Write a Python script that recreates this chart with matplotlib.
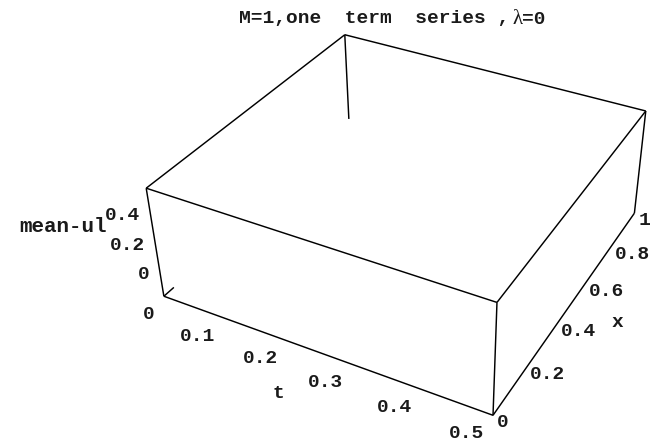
import numpy as np
import matplotlib
matplotlib.use("Agg")
import matplotlib.pyplot as plt

# ---- data / axis setup ----
title_parts = ["M=1,one  term  series ,", "\u03bb", "=0"]
t_range = (0.0, 0.5)
x_range = (0.0, 1.0)
z_range = (-0.14, 0.59)
t_ticks = [0, 0.1, 0.2, 0.3, 0.4, 0.5]
x_ticks = [0, 0.2, 0.4, 0.6, 0.8, 1]
z_ticks = [0, 0.2, 0.4]
t_tick_labels = ["0", "0.1", "0.2", "0.3", "0.4", "0.5"]
x_tick_labels = ["0", "0.2", "0.4", "0.6", "0.8", "1"]
z_tick_labels = ["0", "0.2", "0.4"]
t_label, x_label, z_label = "t", "x", "mean-ul"

# ---- view (perspective projection of the Mathematica-style box) ----
P = np.array([[555.67, 257.901, -26.5174, 163.869],
              [151.681, -136.984, -119.43, 296.238],
              [-0.208142, 0.206855, -0.060495, 1.0]])


def proj(t, x, z):
    """t, x, z in data units -> figure pixel coordinates."""
    zn = (np.asarray(z, float) - z_range[0]) / (z_range[1] - z_range[0])
    t = np.asarray(t, float); x = np.asarray(x, float)
    h = P @ np.array([t, x, zn, np.ones_like(t)])
    return h[0] / h[2], h[1] / h[2]


W, H = 659, 448
fig = plt.figure(figsize=(W / 100, H / 100), dpi=100)
ax = fig.add_axes([0, 0, 1, 1])
ax.set_xlim(0, W)
ax.set_ylim(H, 0)
ax.axis("off")

t0, t1 = t_range
x0, x1 = x_range
z0, z1 = z_range


def edge(p, q, f0=0.0, f1=1.0):
    s = np.linspace(f0, f1, 50)
    pts = np.array([np.array(p) + (np.array(q) - np.array(p)) * si for si in s])
    u, v = proj(pts[:, 0], pts[:, 1], pts[:, 2])
    ax.plot(u, v, color="black", lw=1.05, solid_capstyle="butt")


# visible box edges (lower back parts are hidden by the white surface)
edge((t0, x0, z0), (t0, x0, z1))             # near-left vertical
edge((t1, x0, z0), (t1, x0, z1))             # front vertical
edge((t1, x1, z0), (t1, x1, z1))             # right vertical
edge((t0, x1, z1), (t0, x1, z0), 0, 0.86)    # back vertical (partly hidden)
edge((t0, x0, z1), (t1, x0, z1))             # top edges
edge((t0, x0, z1), (t0, x1, z1))
edge((t1, x0, z1), (t1, x1, z1))
edge((t0, x1, z1), (t1, x1, z1))
edge((t0, x0, z0), (t1, x0, z0))             # bottom front
edge((t1, x0, z0), (t1, x1, z0))             # bottom right
edge((t0, x0, z0), (t0, x1, z0), 0, 0.045)   # short visible stub

font = dict(family=["Liberation Mono", "DejaVu Sans Mono"], fontweight="bold",
            fontsize=14, color="#1a1a1a")

# tick labels
for tv, lab in zip(t_ticks, t_tick_labels):
    u, v = proj(tv, x0, z0)
    ax.text(u - 9, v + 18, lab, ha="right", va="center", **font)
for xv, lab in zip(x_ticks, x_tick_labels):
    u, v = proj(t1, xv, z0)
    ax.text(u + 4, v + 7, lab, ha="left", va="center", **font)
for zv, lab in zip(z_ticks, z_tick_labels):
    u, v = proj(t0, x0, zv)
    ax.text(u - 11, v - 2, lab, ha="right", va="center", **font)

# axis labels
u, v = proj((t0 + t1) / 2, x0, z0)
ax.text(u - 41, v + 41, t_label, ha="center", va="center", **font)
u, v = proj(t1, (x0 + x1) / 2, z0)
ax.text(u + 46, v + 19, x_label, ha="center", va="center", **font)
u, v = proj(t0, x0, (z0 + z1) / 2)
zfont = dict(font, fontsize=15)
ax.text(u - 48, v - 17, z_label, ha="right", va="center", **zfont)

# title (lambda in a light serif face, as in the original)
tt = ax.text(239, 19, title_parts[0], ha="left", va="center", **font)
tl = ax.annotate(title_parts[1], xy=(1, 0.5), xycoords=tt, xytext=(2, 0),
                 textcoords="offset points", ha="left", va="center",
                 family=["Liberation Serif", "DejaVu Serif"], fontsize=15,
                 color="#1a1a1a")
ax.annotate(title_parts[2], xy=(1, 0.5), xycoords=tl, xytext=(0, 0),
            textcoords="offset points", ha="left", va="center", **font)

fig.savefig("out.png", dpi=100)
